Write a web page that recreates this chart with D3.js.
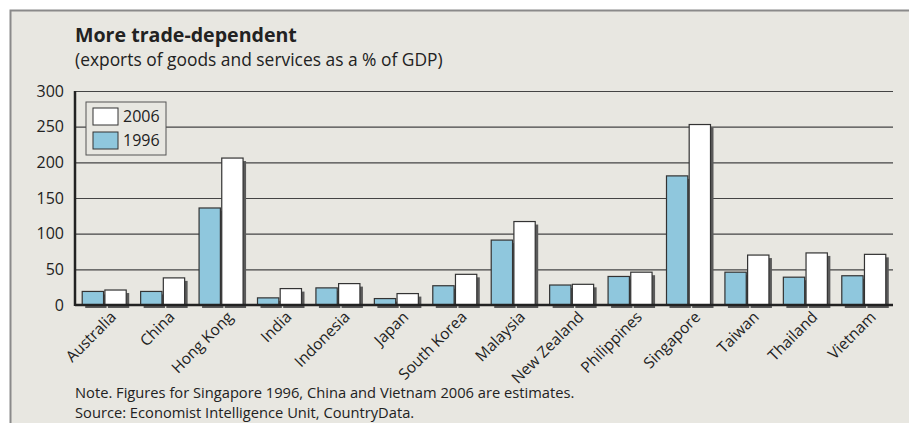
<!DOCTYPE html>
<html>
<head>
<meta charset="utf-8">
<style>
  body { margin: 0; background: #fff; }
  svg { display: block; font-family: "Open Sans", sans-serif; }
  .grid line { stroke: #444; stroke-width: 1.2; }
  .grid .domain { display: none; }
  .y.axis text, .x.axis text { fill: #222; }
</style>
</head>
<body>
<div id="chart"></div>
<script src="https://d3js.org/d3.v7.min.js"></script>
<script>
// values
var countries = ["Australia", "China", "Hong Kong", "India", "Indonesia", "Japan", "South Korea",
                 "Malaysia", "New Zealand", "Philippines", "Singapore", "Taiwan", "Thailand", "Vietnam"];
var years = ["1996", "2006"];
var values1996 = [19, 19, 136, 10, 24, 9, 27, 91, 28, 40, 181, 46, 39, 41];
var values2006 = [21, 38, 206, 23, 30, 16, 43, 117, 29, 46, 253, 70, 73, 71];
var yTicks = [0, 50, 100, 150, 200, 250, 300];

var W = 909, H = 423;
var margin = {top: 91, right: 16, bottom: 118, left: 75};
var width = W - margin.left - margin.right,
    height = H - margin.top - margin.bottom;

var colours = {"1996": "#8fc7dd", "2006": "#ffffff"};

var svg = d3.select("#chart").append("svg")
    .attr("width", W)
    .attr("height", H);

// panel
svg.append("rect")
    .attr("x", 10).attr("y", 10)
    .attr("width", W - 10).attr("height", H - 10)
    .attr("fill", "#e8e7e1");
svg.append("path")
    .attr("d", "M10.5," + H + "V10.5H" + W)
    .attr("fill", "none")
    .attr("stroke", "#8a8a8a")
    .attr("stroke-width", 2);

svg.append("text")
    .attr("x", 75).attr("y", 42)
    .attr("font-size", 19.6)
    .attr("font-weight", "bold")
    .attr("fill", "#222")
    .text("More trade-dependent");
svg.append("text")
    .attr("x", 75).attr("y", 66)
    .attr("font-size", 17.4)
    .attr("fill", "#222")
    .text("(exports of goods and services as a % of GDP)");

var g = svg.append("g").attr("transform", "translate(" + margin.left + "," + margin.top + ")");

var data = countries.map(function(c, i) {
    return {country: c, "1996": values1996[i], "2006": values2006[i]};
});

var x0 = d3.scaleBand()
    .domain(countries)
    .range([0, width])
    .paddingInner(0.247)
    .paddingOuter(0.1235);

var x1 = d3.scaleBand()
    .domain(years)
    .range([0, x0.bandwidth()])
    .paddingInner(0.06);

var y = d3.scaleLinear()
    .domain([0, 300])
    .range([height, 0]);

// gridlines + y labels
g.append("g")
    .attr("class", "grid")
    .call(d3.axisLeft(y).tickValues(yTicks).tickSize(-width).tickFormat(""));

g.append("g")
    .attr("class", "y axis")
    .call(d3.axisLeft(y).tickValues(yTicks).tickSize(0).tickPadding(11))
    .call(function(a) { a.select(".domain").remove(); })
    .selectAll("text")
    .attr("font-size", 16)
    .attr("font-family", "Open Sans, sans-serif");

var groups = g.selectAll(".group")
    .data(data)
    .enter().append("g")
    .attr("class", "group")
    .attr("transform", function(d) { return "translate(" + x0(d.country) + ",0)"; });

// drop shadows
groups.selectAll(".shadow")
    .data(function(d) { return years.map(function(k) { return {key: k, value: d[k]}; }); })
    .enter().append("rect")
    .attr("class", "shadow")
    .attr("x", function(d) { return x1(d.key) + 3; })
    .attr("y", function(d) { return y(d.value) + 3; })
    .attr("width", x1.bandwidth())
    .attr("height", function(d) { return height - y(d.value); })
    .attr("fill", "#5a5a5a");

groups.selectAll(".bar")
    .data(function(d) { return years.map(function(k) { return {key: k, value: d[k]}; }); })
    .enter().append("rect")
    .attr("class", "bar")
    .attr("x", function(d) { return x1(d.key); })
    .attr("y", function(d) { return y(d.value); })
    .attr("width", x1.bandwidth())
    .attr("height", function(d) { return height - y(d.value); })
    .attr("fill", function(d) { return colours[d.key]; })
    .attr("stroke", "#333")
    .attr("stroke-width", 1.2);

// zero line and y axis line
g.append("line")
    .attr("x1", 0).attr("x2", width)
    .attr("y1", y(0)).attr("y2", y(0))
    .attr("stroke", "#222").attr("stroke-width", 2.5);
g.append("line")
    .attr("x1", 0).attr("x2", 0)
    .attr("y1", y(300)).attr("y2", y(0) + 1)
    .attr("stroke", "#222").attr("stroke-width", 2.5);

// x labels
g.append("g")
    .attr("class", "x axis")
    .attr("transform", "translate(0," + height + ")")
    .call(d3.axisBottom(x0).tickSize(0).tickPadding(0))
    .call(function(a) { a.select(".domain").remove(); })
    .selectAll("text")
    .attr("font-size", 15.5)
    .attr("font-family", "Open Sans, sans-serif")
    .attr("text-anchor", "end")
    .attr("dy", null)
    .attr("y", 0)
    .attr("transform", "translate(13,13) rotate(-45)");

// legend
var legend = g.append("g").attr("transform", "translate(11,11)");
legend.append("rect")
    .attr("width", 80).attr("height", 53)
    .attr("fill", "#e8e7e1")
    .attr("stroke", "#555").attr("stroke-width", 1);
["2006", "1996"].forEach(function(k, i) {
    legend.append("rect")
        .attr("x", 7).attr("y", 6 + i * 24)
        .attr("width", 25).attr("height", 17)
        .attr("fill", colours[k])
        .attr("stroke", "#333").attr("stroke-width", 1);
    legend.append("text")
        .attr("x", 37).attr("y", 20 + i * 24)
        .attr("font-size", 16)
        .attr("fill", "#222")
        .text(k);
});

// footnotes
svg.append("text")
    .attr("x", 75).attr("y", 398)
    .attr("font-size", 14.7)
    .attr("fill", "#222")
    .text("Note. Figures for Singapore 1996, China and Vietnam 2006 are estimates.");
svg.append("text")
    .attr("x", 75).attr("y", 418)
    .attr("font-size", 14.7)
    .attr("fill", "#222")
    .text("Source: Economist Intelligence Unit, CountryData.");
</script>
</body>
</html>
